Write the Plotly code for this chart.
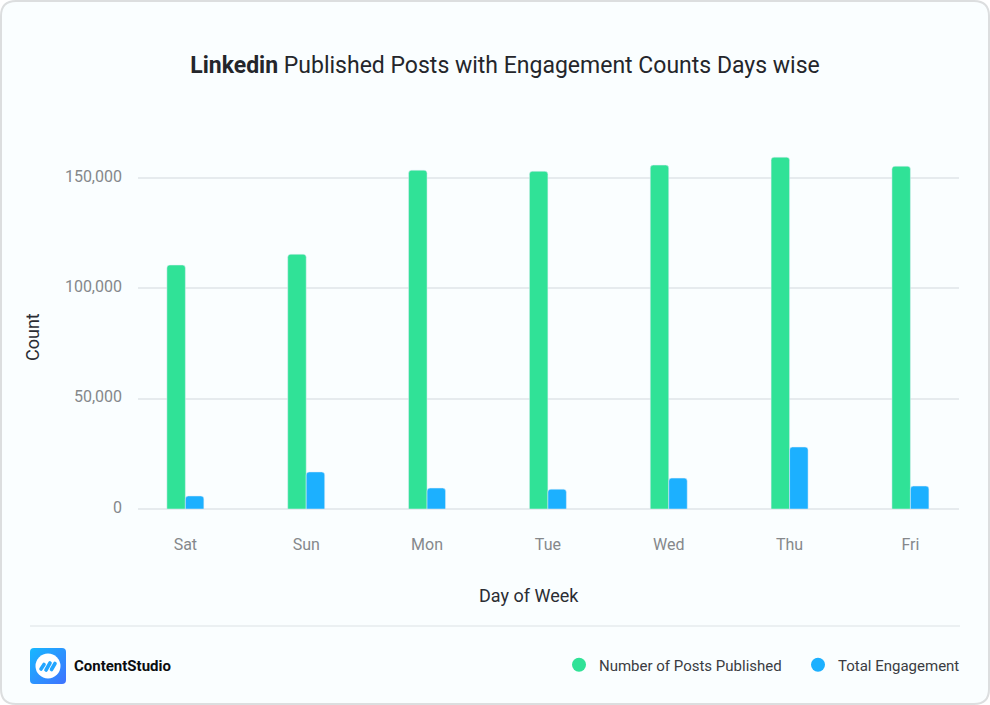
import base64

import plotly.graph_objects as go

days = ["Sat", "Sun", "Mon", "Tue", "Wed", "Thu", "Fri"]
posts_published = [110600, 115500, 153600, 153100, 155900, 159500, 155400]
total_engagement = [5900, 16800, 9500, 9000, 14000, 28100, 10400]
y_ticks = [0, 50000, 100000, 150000]
y_tick_labels = ["0", "50,000", "100,000", "150,000"]

GREEN = "#30e297"
BLUE = "#1cb0ff"
FONT = "Roboto"
W, H = 990, 705
# plot area in window pixels
LEFT, RIGHT, TOP, BOTTOM = 138, 959, 134, 509


# "paper" coordinates are relative to the plot area, so convert from pixels
def px(x):
    return (x - LEFT) / (RIGHT - LEFT)


def py(y):
    return (BOTTOM - y) / (BOTTOM - TOP)


LOGO_SVG = """<svg xmlns="http://www.w3.org/2000/svg" viewBox="0 0 36 36">
<defs><linearGradient id="g" x1="0" y1="0" x2="1" y2="1">
<stop offset="0" stop-color="#16b8ff"/><stop offset="1" stop-color="#3f72ff"/>
</linearGradient></defs>
<rect width="36" height="36" rx="4" fill="url(#g)"/>
<circle cx="18" cy="18" r="12.5" fill="#fff"/>
<g stroke="#22a5ff" stroke-width="3.6" stroke-linecap="round">
<line x1="11" y1="21" x2="14" y2="16.5"/>
<line x1="16" y1="22" x2="20" y2="15"/>
<line x1="21.5" y1="21.5" x2="25" y2="15.5"/>
</g></svg>"""
logo_uri = "data:image/svg+xml;base64," + base64.b64encode(LOGO_SVG.encode()).decode()

fig = go.Figure()
fig.add_trace(go.Bar(x=days, y=posts_published, marker_color=GREEN, showlegend=False, hoverinfo="y"))
fig.add_trace(go.Bar(x=days, y=total_engagement, marker_color=BLUE, showlegend=False, hoverinfo="y"))

# legend swatches are circles, so they come from empty scatter traces
fig.add_trace(go.Scatter(x=[None], y=[None], mode="markers", name="Number of Posts Published",
                         marker=dict(color=GREEN, size=14)))
fig.add_trace(go.Scatter(x=[None], y=[None], mode="markers", name="Total Engagement",
                         marker=dict(color=BLUE, size=14)))

card = (
    f"M {px(16)} {py(1)} L {px(974)} {py(1)} Q {px(989)} {py(1)} {px(989)} {py(16)} "
    f"L {px(989)} {py(689)} Q {px(989)} {py(704)} {px(974)} {py(704)} "
    f"L {px(16)} {py(704)} Q {px(1)} {py(704)} {px(1)} {py(689)} "
    f"L {px(1)} {py(16)} Q {px(1)} {py(1)} {px(16)} {py(1)} Z"
)

fig.update_layout(
    width=W,
    height=H,
    margin=dict(l=LEFT, r=W - RIGHT, t=TOP, b=H - BOTTOM, autoexpand=False),
    paper_bgcolor="white",
    plot_bgcolor="rgba(0,0,0,0)",
    font=dict(family=FONT, color="#2b2d33"),
    barmode="group",
    bargap=0.694,
    bargroupgap=0,
    barcornerradius=3,
    title=dict(
        text="<b>Linkedin</b> Published Posts with Engagement Counts Days wise",
        x=505 / W, xanchor="center", y=1 - 65 / H, yanchor="middle",
        font=dict(size=23, family=FONT, color="#24262b"),
    ),
    legend=dict(
        orientation="h", x=px(559), xanchor="left", y=py(665), yanchor="middle",
        entrywidth=194, entrywidthmode="pixels",
        font=dict(size=15, family=FONT, color="#3a3c42"), bgcolor="rgba(0,0,0,0)",
    ),
    shapes=[
        dict(type="path", xref="paper", yref="paper", layer="below", path=card,
             fillcolor="#fafeff", line=dict(color="#dcdedf", width=2)),
        dict(type="line", xref="paper", yref="paper", x0=px(30), x1=px(960), y0=py(626), y1=py(626),
             line=dict(color="#e6ebee", width=1.5)),
    ],
    images=[dict(source=logo_uri, xref="paper", yref="paper", x=px(30), y=py(648),
                 sizex=36 / (RIGHT - LEFT), sizey=36 / (BOTTOM - TOP),
                 xanchor="left", yanchor="top", layer="above")],
    annotations=[
        dict(text="<b>ContentStudio</b>", xref="paper", yref="paper", x=px(72), y=py(666),
             xanchor="left", yanchor="middle", showarrow=False,
             font=dict(size=15, family=FONT, color="#0c0d10")),
        # axis titles sit off-centre from the plot area in the original
        dict(text="Day of Week", xref="paper", yref="paper", x=px(529), y=py(595),
             xanchor="center", yanchor="middle", showarrow=False,
             font=dict(size=18, family=FONT, color="#2b2d33")),
        dict(text="Count", xref="paper", yref="paper", x=px(32), y=py(337), textangle=-90,
             xanchor="center", yanchor="middle", showarrow=False,
             font=dict(size=18, family=FONT, color="#2b2d33")),
    ],
)

fig.update_xaxes(
    type="category",
    range=[-0.392, 6.402],
    showgrid=False,
    showline=False,
    zeroline=False,
    ticks="",
    ticklabelstandoff=24,
    tickfont=dict(size=16, family=FONT, color="#85888b"),
)
fig.update_yaxes(
    range=[0, 170000],
    tickvals=y_ticks,
    ticktext=y_tick_labels,
    showgrid=True,
    gridcolor="#e6ebee",
    gridwidth=1.5,
    zeroline=True,
    zerolinecolor="#e6ebee",
    zerolinewidth=1.5,
    showline=False,
    ticks="",
    ticklabelstandoff=15,
    ticklabelshift=-2,
    tickfont=dict(size=16, family=FONT, color="#85888b"),
)

fig.write_html("out.html", config={"displayModeBar": False},
               post_script="document.body.style.margin = '0';")
